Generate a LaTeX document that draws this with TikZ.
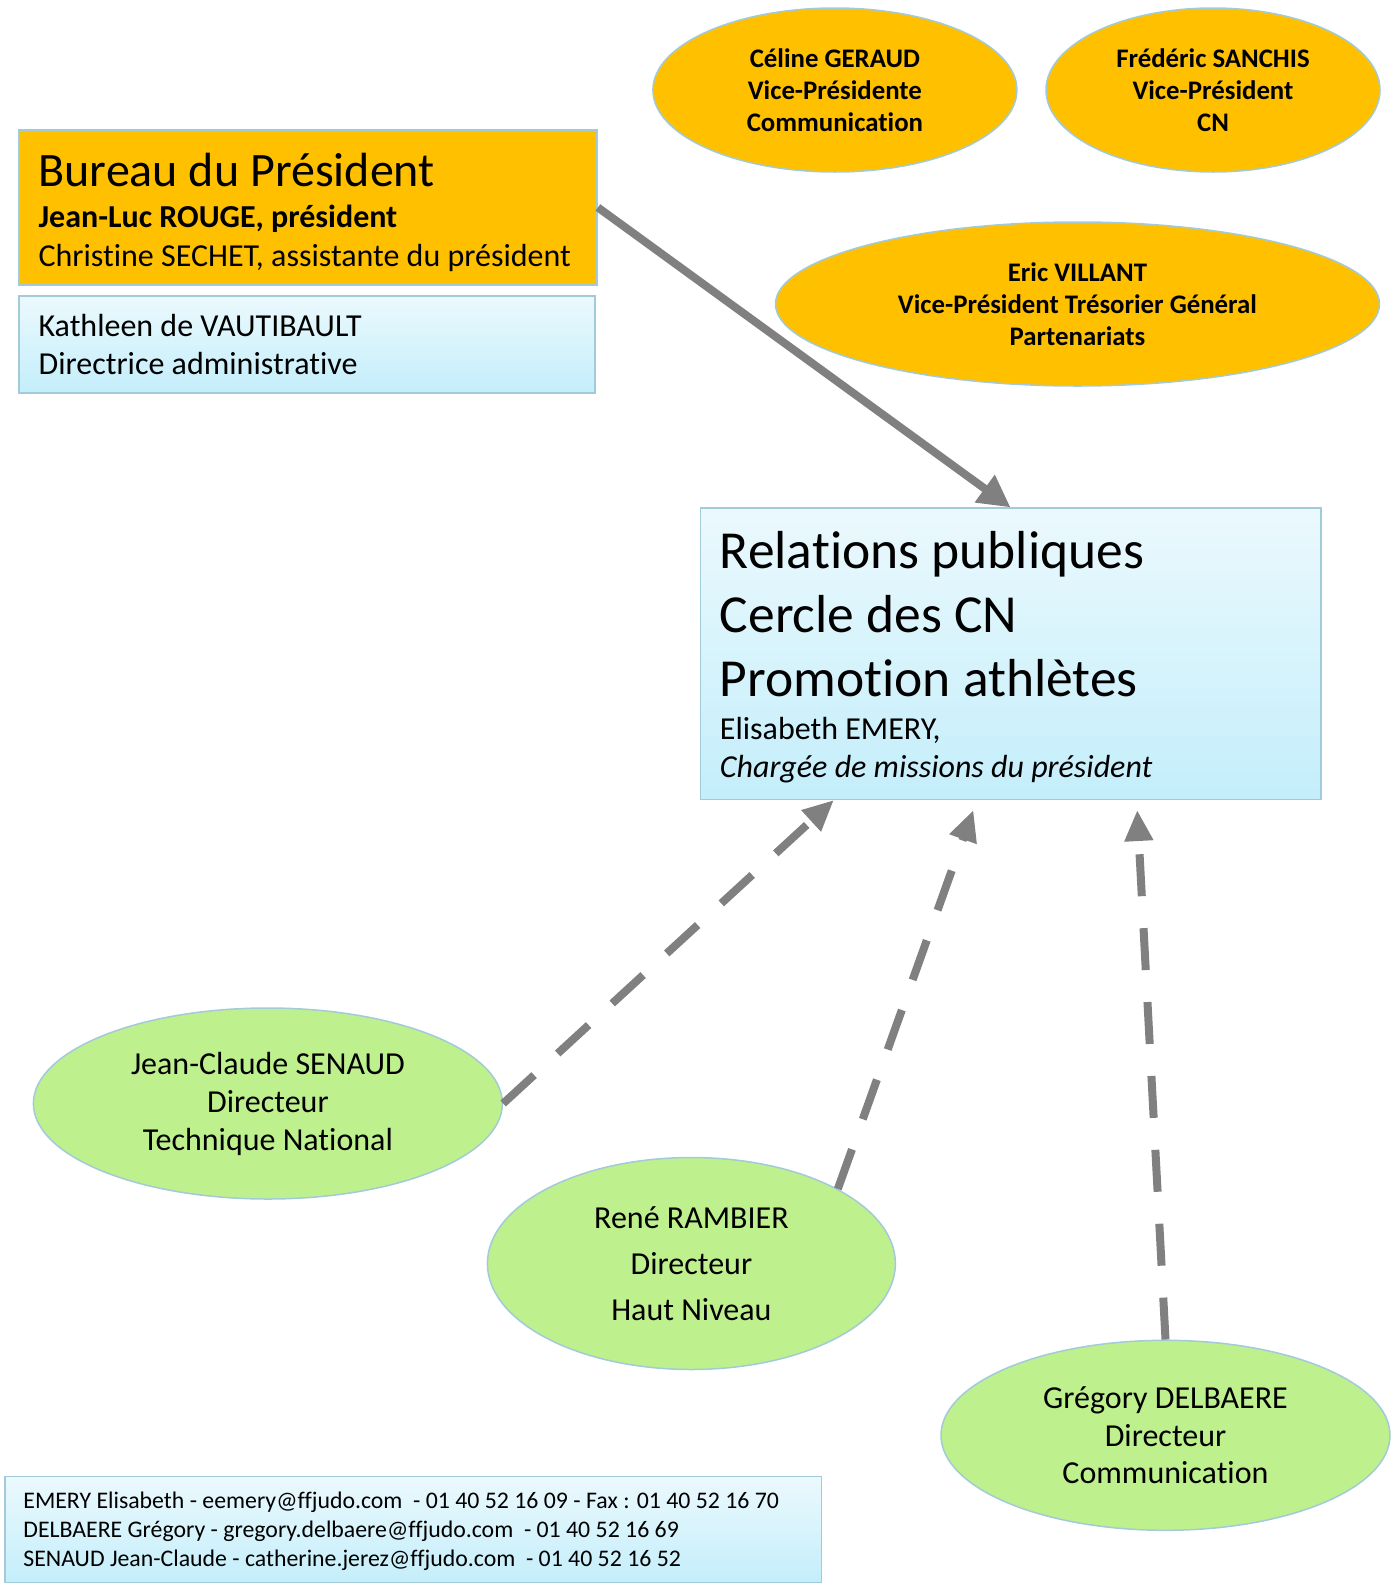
\documentclass[tikz,border=0pt]{standalone}
\usepackage{fontspec}
\setmainfont{Carlito}[Ligatures=NoCommon]
\usetikzlibrary{arrows.meta,shapes.geometric,calc}
\definecolor{orangeF}{HTML}{FFC000}
\definecolor{greenF}{HTML}{BEF08E}
\definecolor{borderB}{HTML}{A3CAD8}
\definecolor{boxTop}{HTML}{EBF9FD}
\definecolor{boxBot}{HTML}{C4EEFB}
\definecolor{arrowG}{HTML}{808080}
\begin{document}
\begin{tikzpicture}[x=1pt,y=-1pt,
  bluebox/.style={draw=borderB, line width=1.5pt, top color=boxTop, bottom color=boxBot, anchor=north west, inner sep=0pt},
  orangebox/.style={draw=borderB, line width=1.5pt, fill=orangeF, anchor=north west, inner sep=0pt},
  txt/.style={anchor=base west, inner sep=0pt},
  oell/.style={ellipse, draw=borderB, line width=1.5pt, fill=orangeF, inner sep=0pt, align=center, font=\fontsize{26.8}{32}\selectfont\bfseries},
  gell/.style={ellipse, draw=borderB, line width=1.5pt, fill=greenF, inner sep=0pt, align=center},
  solidarrow/.style={draw=arrowG, line width=8pt, -{Triangle[length=32pt,width=32pt]}},
  dasharrow/.style={draw=arrowG, line width=8pt, dash pattern=on 42pt off 32pt, -{Triangle[length=31pt,width=27pt]}}
]
\useasboundingbox (0,0) rectangle (1399,1585);

% Bureau du President
\node[orangebox, minimum width=578.2pt, minimum height=154.6pt] (bureau) at (18.2,129.4) {};
\node[txt, font=\fontsize{48}{54}\selectfont] (b1) at (38.4,186.5) {Bureau du Président};
\node[txt, font=\fontsize{32}{38}\selectfont\bfseries] (b2) at (38.4,227.5) {Jean-Luc ROUGE, président};
\node[txt, font=\fontsize{32}{38}\selectfont] (b3) at (38.4,266.5) {Christine SECHET, assistante du président};

% Kathleen
\node[bluebox, minimum width=576.2pt, minimum height=97pt] (kath) at (18.2,295.2) {};
\node[txt, font=\fontsize{32}{38}\selectfont] (k1) at (38.4,336) {Kathleen de VAUTIBAULT};
\node[txt, font=\fontsize{32}{38}\selectfont] (k2) at (38.4,374) {Directrice administrative};

% Vice-presidents
\node[oell, minimum width=364pt, minimum height=164pt] (celine) at (834.9,90) {Céline GERAUD\\Vice-Présidente\\Communication};
\node[oell, minimum width=334pt, minimum height=164pt] (fred) at (1213,90) {Frédéric SANCHIS\\Vice-Président\\CN};
\node[oell, minimum width=604pt, minimum height=164pt] (eric) at (1077.5,304) {Eric VILLANT\\Vice-Président Trésorier Général\\Partenariats};

% Relations publiques
\node[bluebox, minimum width=620.6pt, minimum height=291.1pt] (rel) at (699.5,507.4) {};
\node[txt, font=\fontsize{53.5}{60}\selectfont] (r1) at (719.7,568) {Relations publiques};
\node[txt, font=\fontsize{53.5}{60}\selectfont] (r2) at (719.7,632.5) {Cercle des CN};
\node[txt, font=\fontsize{53.5}{60}\selectfont] (r3) at (719.7,696) {Promotion athlètes};
\node[txt, font=\fontsize{32}{38}\selectfont] (r4) at (719.7,739) {Elisabeth EMERY,};
\node[txt, font=\fontsize{32}{38}\selectfont\itshape] (r5) at (719.7,777) {Chargée de missions du président};

% Directors
\node[gell, minimum width=469pt, minimum height=191pt, font=\fontsize{32}{38}\selectfont] (jc) at (267.9,1103.5) {Jean-Claude SENAUD\\Directeur\\Technique National};
\node[gell, minimum width=408pt, minimum height=212pt, font=\fontsize{32}{46}\selectfont] (rene) at (691.4,1263.5) {René RAMBIER\\Directeur\\Haut Niveau};
\node[gell, minimum width=449pt, minimum height=190pt, font=\fontsize{32}{37.7}\selectfont] (greg) at (1165.5,1435.3) {Grégory DELBAERE\\Directeur\\Communication};

% Footer
\node[bluebox, minimum width=816.8pt, minimum height=106pt] (foot) at (4,1475.8) {};
\node[txt, font=\fontsize{23.8}{29}\selectfont] (f1) at (23.2,1508) {EMERY Elisabeth - eemery@ffjudo.com\ \ - 01 40 52 16 09 - Fax : 01 40 52 16 70};
\node[txt, font=\fontsize{23.8}{29}\selectfont] (f2) at (23.2,1537) {DELBAERE Grégory - gregory.delbaere@ffjudo.com\ \ - 01 40 52 16 69};
\node[txt, font=\fontsize{23.8}{29}\selectfont] (f3) at (23.2,1566) {SENAUD Jean-Claude - catherine.jerez@ffjudo.com\ \ - 01 40 52 16 52};

% Connectors
\draw[solidarrow] (bureau.east) -- (rel.north);
\draw[dasharrow] (jc.east) -- ([xshift=134.4pt]rel.south west);
\draw[dasharrow] (rene.27.5) -- ([xshift=273.9pt,yshift=-10pt]rel.south west);
\draw[dasharrow] (greg.north) -- ([xshift=437.7pt,yshift=-10pt]rel.south west);
\end{tikzpicture}
\end{document}
